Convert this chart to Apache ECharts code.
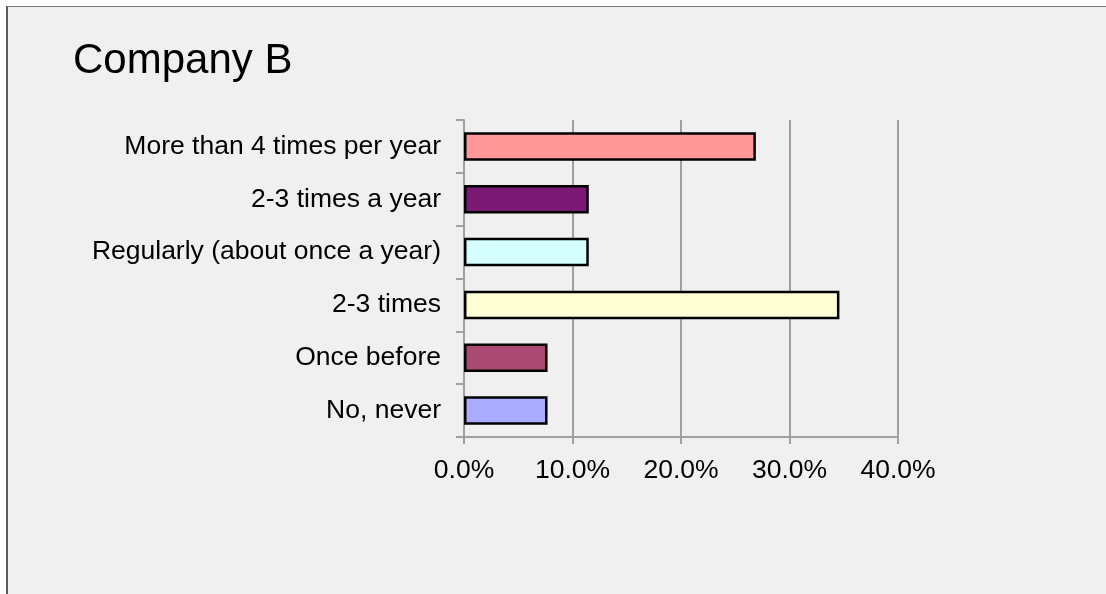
<!DOCTYPE html>
<html>
<head>
<meta charset="utf-8">
<script src="https://cdn.jsdelivr.net/npm/echarts@6/dist/echarts.min.js"></script>
<style>
html,body{margin:0;padding:0;background:#ffffff;}
#panel{position:absolute;left:6px;top:6px;width:1100px;height:588px;background:#f0f0f0;border-top:1px solid #7a7a7a;border-left:2px solid #5a5a5a;box-sizing:border-box;}
#chart{position:absolute;left:0;top:0;width:1106px;height:594px;}
</style>
</head>
<body>
<div id="panel"></div>
<div id="chart"></div>
<script>
var categories = ["No, never", "Once before", "2-3 times", "Regularly (about once a year)", "2-3 times a year", "More than 4 times per year"];
var values = [7.7, 7.7, 34.6, 11.5, 11.5, 26.9];
var barColors = ["#aaaaff", "#aa4a73", "#ffffd5", "#d5ffff", "#7b1a74", "#ff9999"];
var xTicks = [0, 10, 20, 30, 40];

var chart = echarts.init(document.getElementById('chart'), null, {renderer: 'canvas'});
chart.setOption({
  backgroundColor: 'transparent',
  animation: false,
  title: {
    text: 'Company B',
    left: 68,
    top: 35,
    textStyle: {fontFamily: 'Liberation Sans, Arial, sans-serif', fontSize: 42, fontWeight: 'normal', color: '#000'}
  },
  grid: {left: 464, right: 208, top: 120, bottom: 157, containLabel: false},
  xAxis: {
    type: 'value',
    min: xTicks[0],
    max: xTicks[xTicks.length - 1],
    interval: 10,
    axisLine: {show: true, lineStyle: {color: '#a0a0a0', width: 2}},
    axisTick: {show: true, length: 7, lineStyle: {color: '#a0a0a0', width: 2}},
    splitLine: {show: true, lineStyle: {color: '#a0a0a0', width: 2}},
    axisLabel: {
      margin: 20,
      fontFamily: 'Liberation Sans, Arial, sans-serif', fontSize: 26.5, color: '#000',
      formatter: function (v) { return v.toFixed(1) + '%'; }
    }
  },
  yAxis: {
    type: 'category',
    data: categories,
    axisLine: {show: true, lineStyle: {color: '#a0a0a0', width: 2}},
    axisTick: {show: true, length: 8, lineStyle: {color: '#a0a0a0', width: 2}},
    splitLine: {show: false},
    axisLabel: {margin: 23, fontFamily: 'Liberation Sans, Arial, sans-serif', fontSize: 26.5, color: '#000'}
  },
  series: [{
    type: 'bar',
    data: values.map(function (v, i) { return {value: v, itemStyle: {color: barColors[i]}}; }),
    barCategoryGap: '46%',
    itemStyle: {borderColor: '#000', borderWidth: 2.5}
  }]
});
</script>
</body>
</html>
